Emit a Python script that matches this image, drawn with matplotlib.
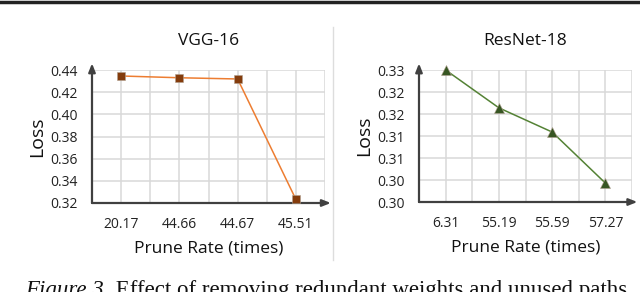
import matplotlib.pyplot as plt
from matplotlib.lines import Line2D

# chart data
vgg_rates = ["20.17", "44.66", "44.67", "45.51"]
vgg_loss = [0.4346, 0.4330, 0.4319, 0.3233]
vgg_yticks = [0.32, 0.34, 0.36, 0.38, 0.40, 0.42, 0.44]
vgg_ylabels = ["0.32", "0.34", "0.36", "0.38", "0.40", "0.42", "0.44"]

res_rates = ["6.31", "55.19", "55.59", "57.27"]
res_loss = [0.3300, 0.3214, 0.3159, 0.3043]
res_yticks = [0.300, 0.305, 0.310, 0.315, 0.320, 0.325, 0.330]
res_ylabels = ["0.30", "0.30", "0.31", "0.31", "0.32", "0.32", "0.33"]

caption_head = "Figure 3."
caption_body = " Effect of removing redundant weights and unused paths"

W, H = 640, 292
fig = plt.figure(figsize=(W / 100, H / 100), dpi=100)
plt.rcParams['font.family'] = ['Open Sans', 'DejaVu Sans']


def px_axes(x0, x1, ytop, ybot):
    return fig.add_axes([x0 / W, 1 - ybot / H, (x1 - x0) / W, (ybot - ytop) / H])


def draw_panel(ax, rates, loss, yticks, ylabels, title, line_c, mark_c, marker, ms):
    n = len(rates)
    xs = list(range(n))
    ax.set_xlim(-0.5, n - 0.5)
    ax.set_ylim(yticks[0], yticks[-1])
    # grid every half category and every y tick
    for gx in [i * 0.5 - 0.5 for i in range(2 * n + 1)]:
        ax.axvline(gx, color='#d9d9d9', lw=1.1, zorder=0)
    for gy in yticks:
        ax.axhline(gy, color='#d9d9d9', lw=1.1, zorder=0)
    ax.plot(xs, loss, color=line_c, lw=1.1, zorder=3, clip_on=False)
    ax.plot(xs, loss, ls='none', marker=marker, ms=ms, mfc=mark_c,
            mec='#b0a090', mew=0.4, zorder=4, clip_on=False)
    for s in ax.spines.values():
        s.set_visible(False)
    ax.set_xticks(xs)
    ax.set_xticklabels(rates, fontsize=10, color='#222222')
    ax.set_yticks(yticks)
    ax.set_yticklabels(ylabels, fontsize=10, color='#222222')
    ax.tick_params(length=0)
    ax.tick_params(axis='y', pad=10)
    ax.tick_params(axis='x', pad=10)
    ax.set_xlabel("Prune Rate (times)", fontsize=12.5, labelpad=6, color='#111111')
    ax.set_ylabel("Loss", fontsize=14, labelpad=3, color='#111111')
    ax.set_title(title, fontsize=12.5, pad=18, color='#111111')
    ax.annotate("", xy=(0, 1.05), xytext=(0, 0), xycoords='axes fraction',
                arrowprops=dict(arrowstyle='-|>,head_length=0.5,head_width=0.2',
                                color='#404040', lw=1.6, shrinkA=0, shrinkB=0))
    ax.annotate("", xy=(1.025, 0), xytext=(0, 0), xycoords='axes fraction',
                arrowprops=dict(arrowstyle='-|>,head_length=0.5,head_width=0.2',
                                color='#404040', lw=1.6, shrinkA=0, shrinkB=0))


ax1 = px_axes(92, 325, 70, 203)
draw_panel(ax1, vgg_rates, vgg_loss, vgg_yticks, vgg_ylabels, "VGG-16",
           '#ED7D31', '#843C0C', 's', 6)

ax2 = px_axes(419, 632, 70, 202)
draw_panel(ax2, res_rates, res_loss, res_yticks, res_ylabels, "ResNet-18",
           '#548235', '#375623', '^', 7.5)

# top rule, panel separator, caption
fig.add_artist(Line2D([0, 1], [1 - 1.5 / H, 1 - 1.5 / H], color='#222222', lw=2.5))
fig.add_artist(Line2D([333 / W, 333 / W], [1 - 27 / H, 1 - 260 / H], color='#dddddd', lw=1))
head = fig.text(25 / W, 1 - 296 / H, caption_head, fontsize=16.5, family='Liberation Serif',
                style='italic', ha='left', va='baseline', color='#111111')
fig.canvas.draw()
bb = head.get_window_extent()
fig.text(bb.x1 / W, 1 - 296 / H, caption_body, fontsize=16.5, family='Liberation Serif',
         ha='left', va='baseline', color='#111111')

fig.savefig("out.png", dpi=100)
